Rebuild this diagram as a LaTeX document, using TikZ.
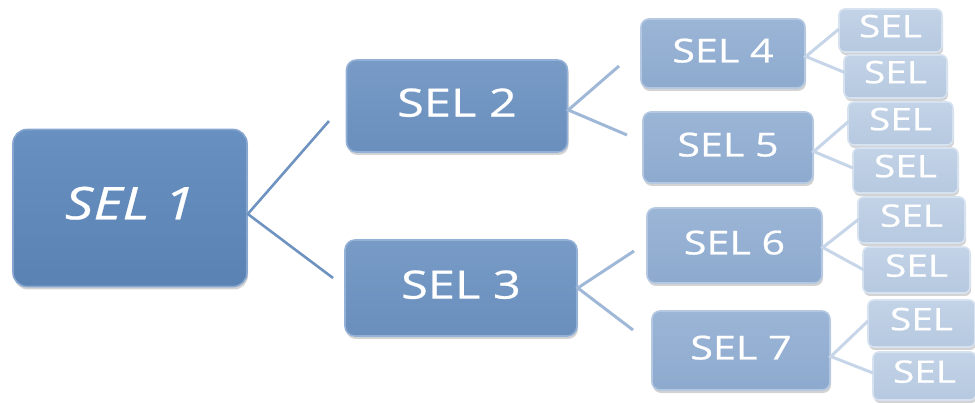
\documentclass[tikz,border=0pt]{standalone}
\usepackage{fontspec}
\setmainfont{Open Sans}[FakeStretch=1.25,FakeBold=0.6]
\usetikzlibrary{shadows}
\definecolor{fa}{HTML}{5A82B2}\definecolor{fat}{HTML}{6890C0}\definecolor{ba}{HTML}{86A6CF}
\definecolor{fb}{HTML}{6A8FBD}\definecolor{fbt}{HTML}{789BC6}\definecolor{bb}{HTML}{93B0D6}
\definecolor{fc}{HTML}{8DAACE}\definecolor{fct}{HTML}{9BB5D6}\definecolor{bc}{HTML}{B4C8E2}
\definecolor{fd}{HTML}{B6C9E0}\definecolor{fdt}{HTML}{C3D3E7}\definecolor{bd}{HTML}{D6E2F0}
\definecolor{la}{HTML}{6F93C0}\definecolor{lb}{HTML}{A0B8D7}\definecolor{lc}{HTML}{C6D5E8}
\tikzset{
  sbox/.style={rectangle, text=white, inner sep=0pt, line width=1.6pt,
    drop shadow={opacity=0.35, shadow xshift=1pt, shadow yshift=-3pt}},
  boxa/.style={sbox, rounded corners=14pt, top color=fat, bottom color=fa, draw=ba, font=\fontsize{45}{50}\selectfont\itshape},
  boxb/.style={sbox, rounded corners=10pt, top color=fbt, bottom color=fb, draw=bb, font=\fontsize{39}{44}\selectfont},
  boxc/.style={sbox, rounded corners=8pt, top color=fct, bottom color=fc, draw=bc, font=\fontsize{33}{38}\selectfont},
  boxd/.style={sbox, rounded corners=6pt, top color=fdt, bottom color=fd, draw=bd, font=\fontsize{31}{36}\selectfont},
  conna/.style={draw=la, line width=2.6pt},
  connb/.style={draw=lb, line width=3pt},
  connc/.style={draw=lc, line width=3pt},
}
\begin{document}
\begin{tikzpicture}[x=1pt,y=-1pt]
\useasboundingbox (0,0) rectangle (975,403);
% level 1
\node[boxa, minimum width=234pt, minimum height=157pt] (s1) at (130,208) {\raisebox{10pt}{SEL 1}};
% level 2
\node[boxb, minimum width=221pt, minimum height=92pt] (s2) at (457,106) {\raisebox{7pt}{SEL 2}};
\node[boxb, minimum width=232pt, minimum height=96pt] (s3) at (461,288) {\raisebox{7pt}{SEL 3}};
% level 3
\node[boxc, minimum width=164pt, minimum height=69pt] (s4) at (723,53.5) {\raisebox{6pt}{SEL 4}};
\node[boxc, minimum width=170pt, minimum height=71pt] (s5) at (728,147.5) {\raisebox{6pt}{SEL 5}};
\node[boxc, minimum width=175pt, minimum height=75pt] (s6) at (734.5,245.5) {\raisebox{6pt}{SEL 6}};
\node[boxc, minimum width=178pt, minimum height=79pt] (s7) at (741,350.5) {\raisebox{6pt}{SEL 7}};
% leaves
\node[boxd, minimum width=103pt, minimum height=43pt] (l1) at (890.5,30.5) {\raisebox{9pt}{SEL}};
\node[boxd, minimum width=103pt, minimum height=43pt] (l2) at (895.5,76.5) {\raisebox{9pt}{SEL}};
\node[boxd, minimum width=105pt, minimum height=43pt] (l3) at (900.5,123.5) {\raisebox{9pt}{SEL}};
\node[boxd, minimum width=105pt, minimum height=45pt] (l4) at (905.5,170.5) {\raisebox{9pt}{SEL}};
\node[boxd, minimum width=107pt, minimum height=46pt] (l5) at (911.5,220) {\raisebox{9pt}{SEL}};
\node[boxd, minimum width=107pt, minimum height=46pt] (l6) at (916.5,270) {\raisebox{9pt}{SEL}};
\node[boxd, minimum width=107pt, minimum height=47pt] (l7) at (921.5,323.5) {\raisebox{9pt}{SEL}};
\node[boxd, minimum width=103pt, minimum height=48pt] (l8) at (924.5,376) {\raisebox{9pt}{SEL}};
% connector ends
\coordinate (e2) at (329,121);
\coordinate (e3) at (333,278);
\coordinate (e4) at (619,66);
\coordinate (e5) at (627,135);
\coordinate (e6) at (634,251);
\coordinate (e7) at (633,330);
\coordinate (f1) at (839,29);
\coordinate (f2) at (846,73);
\coordinate (f3) at (849,121);
\coordinate (f4) at (853,168);
\coordinate (f5) at (859,219);
\coordinate (f6) at (864,270);
\coordinate (f7) at (868,321);
\coordinate (f8) at (873,373);
% connectors
\draw[conna] (e2) -- ([yshift=-6pt]s1.east) -- (e3);
\draw[connb] (e4) -- ([yshift=-4pt]s2.east) -- (e5);
\draw[connb] (e6) -- (s3.east) -- (e7);
\draw[connc] (f1) -- ([yshift=-3pt]s4.east) -- (f2);
\draw[connc] (f3) -- ([yshift=-4pt]s5.east) -- (f4);
\draw[connc] (f5) -- ([yshift=-2pt]s6.east) -- (f6);
\draw[connc] (f7) -- ([yshift=-6pt]s7.east) -- (f8);
\end{tikzpicture}
\end{document}
